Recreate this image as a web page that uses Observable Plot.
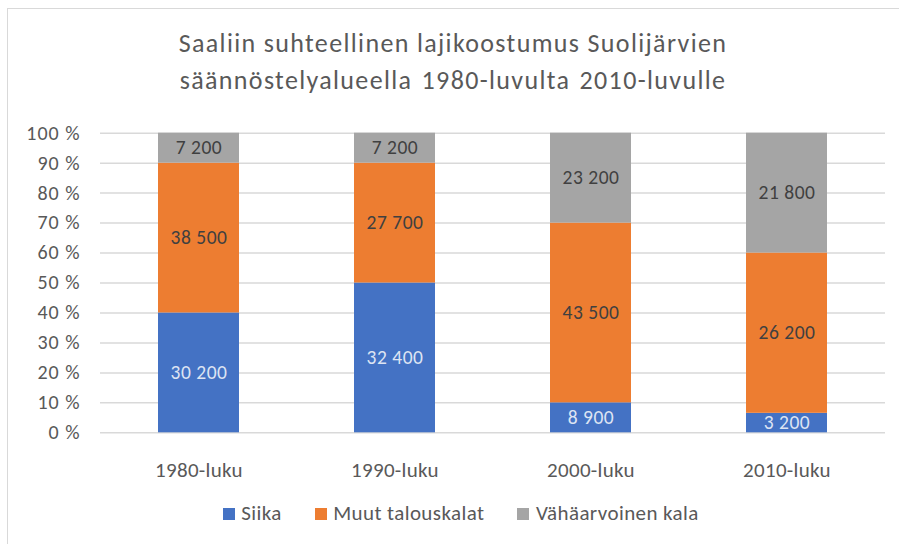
<!DOCTYPE html>
<html><head><meta charset="utf-8">
<script src="https://cdn.jsdelivr.net/npm/d3@7"></script>
<script src="https://cdn.jsdelivr.net/npm/@observablehq/plot@0.6"></script>
<style>
  html,body{margin:0;padding:0;background:#fff;}
  body{width:899px;height:544px;position:relative;overflow:hidden;font-family:Carlito,"Liberation Sans Narrow","Open Sans",sans-serif;}
  #frame{position:absolute;left:7px;top:8px;width:900px;height:540px;border-left:1.5px solid #d9d9d9;border-top:1.5px solid #d9d9d9;}
  #title{position:absolute;left:0;width:906px;top:24.5px;text-align:center;font-size:26px;line-height:37px;color:#595959;letter-spacing:1.35px;white-space:nowrap;}
  #chart{position:absolute;left:0;top:110px;}
  #legend{position:absolute;left:222.7px;top:503px;display:flex;gap:33px;font-size:21px;line-height:21px;color:#595959;letter-spacing:0.4px;white-space:nowrap;}
  #legend .item{display:flex;align-items:center;}
  #legend .sw{display:inline-block;width:12px;height:12px;margin-right:6.5px;position:relative;top:0px;}
</style>
</head><body>
<div id="frame"></div>
<div id="title">Saaliin suhteellinen lajikoostumus Suolijärvien<br>säännöstelyalueella <span style="margin-left:2px"></span>1980-luvulta <span style="margin-left:2px"></span>2010-luvulle</div>
<div id="chart"></div>
<div id="legend"></div>
<script>
const categories = ["1980-luku", "1990-luku", "2000-luku", "2010-luku"];
const series = ["Siika", "Muut talouskalat", "Vähäarvoinen kala"];
const colors = ["#4472C4", "#ED7D31", "#A5A5A5"];
// bar heights (percent of catch)
const siikaPct = [40, 50, 10, 6.5];
const muutPct = [50, 40, 60, 53.5];
const vahaPct = [10, 10, 30, 40];
// catch amounts shown as labels
const siikaCatch = [30200, 32400, 8900, 3200];
const muutCatch = [38500, 27700, 43500, 26200];
const vahaCatch = [7200, 7200, 23200, 21800];
const yTicks = [0, 10, 20, 30, 40, 50, 60, 70, 80, 90, 100];

const fmt = d3.formatLocale({decimal: ",", thousands: " ", grouping: [3]}).format(",d");
const pcts = [siikaPct, muutPct, vahaPct];
const catches = [siikaCatch, muutCatch, vahaCatch];
const labelColors = ["#dde4f3", "#404040", "#404040"];
const data = [];
series.forEach((s, si) => categories.forEach((c, ci) => {
  data.push({cat: c, series: s, pct: pcts[si][ci], label: fmt(catches[si][ci]), lc: labelColors[si]});
}));

const chart = Plot.plot({
  width: 899,
  height: 380,
  marginLeft: 100,
  marginRight: 14,
  marginTop: 22.7,
  marginBottom: 57.7,
  style: {fontFamily: 'Carlito,"Liberation Sans Narrow","Open Sans",sans-serif', color: "#595959", background: "transparent"},
  x: {domain: categories, label: null, paddingInner: 0.587, paddingOuter: 0.2935},
  y: {domain: [0, 100], label: null},
  color: {domain: series, range: colors},
  marks: [
    Plot.gridY(yTicks, {stroke: "#d9d9d9", strokeOpacity: 1, strokeWidth: 1.5}),
    Plot.axisY(yTicks, {tickSize: 0, tickPadding: 21, fontSize: 20, tickFormat: d => d + " %", fill: "#595959"}),
    Plot.axisX({tickSize: 0, tickPadding: 28.8, fontSize: 21, fill: "#595959"}),
    Plot.barY(data, Plot.stackY({x: "cat", y: "pct", fill: "series", order: series})),
    Plot.text(data, Plot.stackY({x: "cat", y: "pct", z: "series", order: series, text: "label", fill: "lc", fontSize: 19.5}))
  ]
});
document.getElementById("chart").appendChild(chart);
d3.select(chart).selectAll('g[aria-label="y-axis tick label"] text').style("letter-spacing", "1px").attr("dx", 1);
d3.select(chart).selectAll('g[aria-label="x-axis tick label"] text').style("letter-spacing", "0.3px");
d3.select(chart).selectAll('g[aria-label="text"] text').style("letter-spacing", "0.5px");

const legend = document.getElementById("legend");
series.forEach((s, i) => {
  const item = document.createElement("span");
  item.className = "item";
  const sw = document.createElement("span");
  sw.className = "sw";
  sw.style.background = colors[i];
  item.appendChild(sw);
  item.appendChild(document.createTextNode(s));
  legend.appendChild(item);
});
</script>
</body></html>
